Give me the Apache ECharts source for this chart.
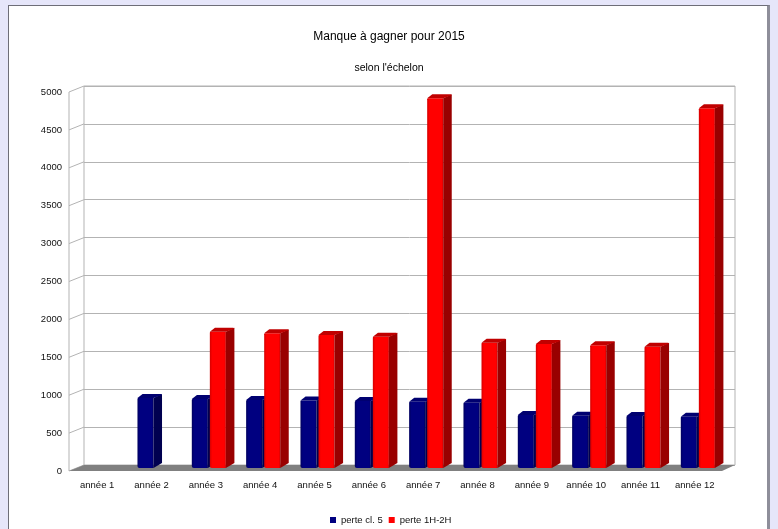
<!DOCTYPE html>
<html>
<head>
<meta charset="utf-8">
<script src="https://cdn.jsdelivr.net/npm/echarts@6/dist/echarts.min.js"></script>
<style>
  html, body { margin: 0; padding: 0; background: #e6e6fa; width: 778px; height: 529px; overflow: hidden; }
  #panel { position: absolute; left: 8px; top: 5px; width: 758px; height: 560px; background: #fff;
           border-left: 1px solid #6e6e78; border-top: 1px solid #6e6e78; border-right: 3px solid #8e8e9a; }
  #chart { position: absolute; left: 0; top: 0; width: 778px; height: 529px; }
</style>
</head>
<body>
<div id="panel"></div>
<div id="chart"></div>
<script>
const categories = ['année 1','année 2','année 3','année 4','année 5','année 6','année 7','année 8','année 9','année 10','année 11','année 12'];
const perteCl5   = [0, 923, 910, 897, 890, 884, 875, 862, 699, 690, 686, 677];
const perte1H2H  = [0, 0, 1798, 1777, 1755, 1732, 4878, 1653, 1636, 1619, 1600, 4745];
const yTicks     = [0, 500, 1000, 1500, 2000, 2500, 3000, 3500, 4000, 4500, 5000];
const seriesNames = ['perte cl. 5', 'perte 1H-2H'];

const FONT = 'Liberation Sans';
const chart = echarts.init(document.getElementById('chart'), null, { renderer: 'canvas' });

function barRenderer(offset, front, side, topc) {
  return function (params, api) {
    const v = api.value(1);
    if (!v) return null;
    const base = api.coord([api.value(0), 0]);
    const top = api.coord([api.value(0), v]);
    const bw = api.size([1, 0])[0];
    const k = bw / 54.2;
    const x0 = base[0] + offset * k, x1 = x0 + 16 * k;
    const dx = 8.5 * k, dy = 4;
    const yt = top[1], yb = base[1];
    return {
      type: 'group',
      children: [
        { type: 'rect', shape: { x: x0, y: yt, width: x1 - x0, height: yb - yt, r: [1, 0, 0, 2] },
          style: { fill: new echarts.graphic.LinearGradient(0, 0, 1, 0, [
            { offset: 0, color: front[0] }, { offset: 0.15, color: front[1] },
            { offset: 0.9, color: front[1] }, { offset: 1, color: front[0] }]) } },
        { type: 'polygon', shape: { points: [[x1, yt], [x1 + dx, yt - dy], [x1 + dx, yb - dy - 1], [x1, yb]] },
          style: { fill: side } },
        { type: 'polygon', shape: { points: [[x0, yt], [x0 + dx * 0.6, yt - dy], [x1 + dx - 1, yt - dy], [x1 + dx, yt - dy + 1], [x1, yt]] },
          style: { fill: topc } }
      ]
    };
  };
}

function wallRenderer(params, api) {
  const children = [];
  const p0 = api.coord([0, 0]);
  const p1 = api.coord([1, 0]);
  const pTop = api.coord([0, yTicks[yTicks.length - 1]]);
  const dX = 15, dY = 6;
  children.push({ type: 'line', shape: { x1: p0[0] - dX, y1: pTop[1] + dY, x2: p0[0] - dX, y2: p0[1] + dY },
                  style: { stroke: '#b3b3b3', lineWidth: 1 } });
  yTicks.forEach(function (t) {
    const p = api.coord([0, t]);
    children.push({ type: 'line', shape: { x1: p[0] - dX, y1: p[1] + dY, x2: p[0], y2: p[1] },
                    style: { stroke: '#b3b3b3', lineWidth: 1 } });
  });
  children.push({ type: 'polygon', shape: { points: [[p0[0], p0[1]], [p1[0], p1[1]], [p1[0] - 13, p1[1] + dY], [p0[0] - dX, p0[1] + dY]] },
                  style: { fill: '#808080' } });
  return { type: 'group', children: children };
}

const option = {
  animation: false,
  backgroundColor: 'transparent',
  title: [
    { text: 'Manque à gagner pour 2015', left: 'center', top: 26,
      textStyle: { fontFamily: FONT, fontSize: 12, fontWeight: 'normal', color: '#000' } },
    { text: "selon l'échelon", left: 'center', top: 58,
      textStyle: { fontFamily: FONT, fontSize: 10.5, fontWeight: 'normal', color: '#000' } }
  ],
  legend: {
    data: seriesNames, left: 330, top: 515, padding: 0,
    icon: 'rect', itemWidth: 6, itemHeight: 6, itemGap: 6,
    textStyle: { fontFamily: FONT, fontSize: 9.5, color: '#111' }
  },
  grid: [
    { left: 84, width: 651, top: 86, height: 379, show: true, borderColor: '#b3b3b3', borderWidth: 1, backgroundColor: 'transparent' },
    { left: 70, width: 652, top: 89, height: 379 },
    { left: 69, width: 652, top: 92, height: 379 }
  ],
  xAxis: [
    { gridIndex: 0, type: 'value', min: 0, max: 1, show: false },
    { gridIndex: 1, type: 'category', data: categories, boundaryGap: true,
      axisLine: { show: false }, axisTick: { show: false },
      axisLabel: { fontFamily: FONT, fontSize: 9.5, color: '#111', margin: 12 } },
    { gridIndex: 2, type: 'value', min: 0, max: 1, show: false }
  ],
  yAxis: [
    { gridIndex: 0, type: 'value', min: 0, max: 5000, interval: 500,
      axisLine: { show: false }, axisTick: { show: false }, axisLabel: { show: false },
      splitLine: { show: true, lineStyle: { color: '#b3b3b3', width: 1 } } },
    { gridIndex: 1, type: 'value', min: 0, max: 5000, interval: 500, show: false },
    { gridIndex: 2, type: 'value', min: 0, max: 5000, interval: 500,
      axisLine: { show: false }, axisTick: { show: false }, splitLine: { show: false },
      axisLabel: { fontFamily: FONT, fontSize: 9.5, color: '#111', margin: 7,
                   formatter: function (v) { return String(v); } } }
  ],
  series: [
    { type: 'custom', name: 'walls', xAxisIndex: 0, yAxisIndex: 0, silent: true,
      data: [[0, 0]], renderItem: wallRenderer, z: 1 },
    { type: 'custom', name: seriesNames[0], xAxisIndex: 1, yAxisIndex: 1, z: 3,
      itemStyle: { color: '#000080' },
      data: categories.map(function (c, i) { return [i, perteCl5[i]]; }),
      encode: { x: 0, y: 1 },
      renderItem: barRenderer(-14, ['#00005e', '#000080'], '#000050', '#000070') },
    { type: 'custom', name: seriesNames[1], xAxisIndex: 1, yAxisIndex: 1, z: 4,
      itemStyle: { color: '#ff0000' },
      data: categories.map(function (c, i) { return [i, perte1H2H[i]]; }),
      encode: { x: 0, y: 1 },
      renderItem: barRenderer(4, ['#d40000', '#ff0000'], '#990000', '#c00000') }
  ]
};
chart.setOption(option);
</script>
</body>
</html>
